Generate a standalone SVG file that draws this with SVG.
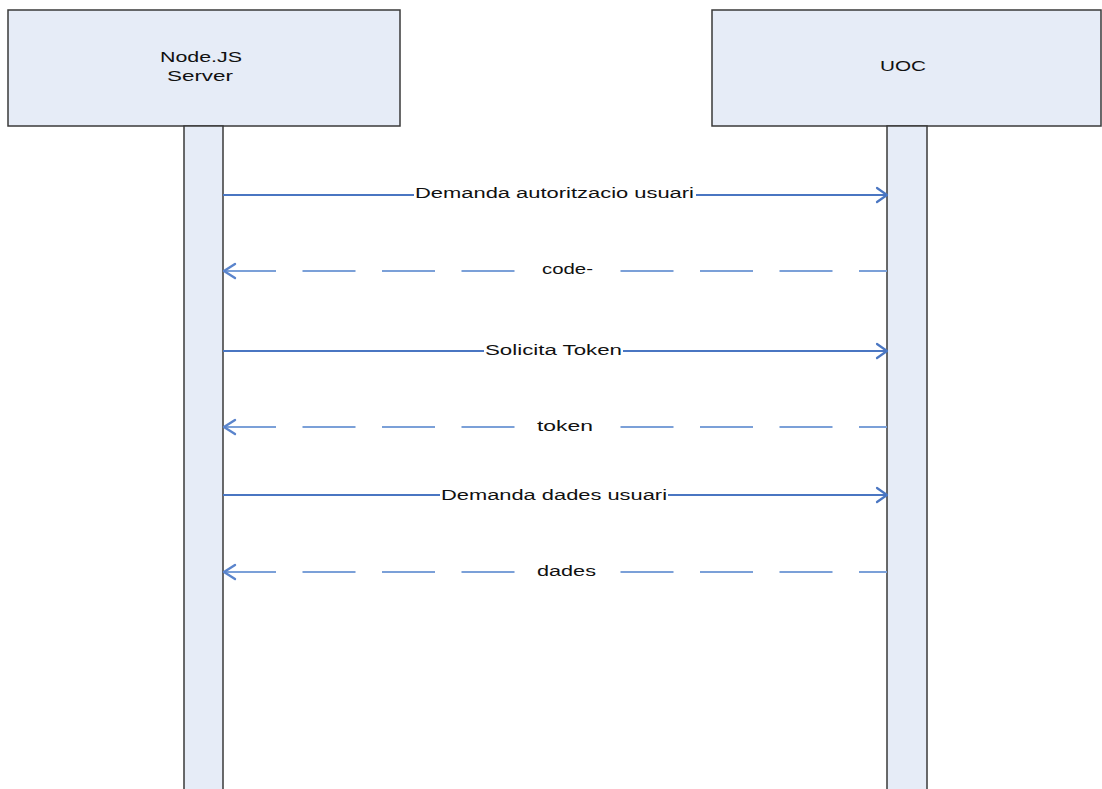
<svg xmlns="http://www.w3.org/2000/svg" width="1102" height="789" viewBox="0 0 1102 789">
<style>
.box{fill:#e6ecf7;stroke:#3a3a3a;stroke-width:1.5}
.life{fill:#e6ecf7;stroke:#3a3a3a;stroke-width:1.5}
.t{font-family:"Liberation Sans",Arial,sans-serif;font-size:14px;fill:#111}
.sol{stroke:#4a76c2;stroke-width:2;fill:none}
.dsh{stroke:#7ba0d8;stroke-width:2;fill:none;stroke-dasharray:53 26.5}
.ahs{stroke:#4a76c2;stroke-width:2.2;fill:none;stroke-linecap:round;stroke-linejoin:round}
.ahd{stroke:#5a84cc;stroke-width:2.4;fill:none;stroke-linecap:round;stroke-linejoin:round}
.bg{fill:#fff}
</style>
<rect width="1102" height="789" fill="#fff"/>
<g id="node-server">
<rect class="box" x="8" y="10" width="392" height="116"/>
<rect class="life" x="184" y="126" width="39" height="670"/>
<text class="t" x="201" y="62" text-anchor="middle" textLength="82" lengthAdjust="spacingAndGlyphs">Node.JS</text>
<text class="t" x="200" y="81" text-anchor="middle" textLength="66" lengthAdjust="spacingAndGlyphs">Server</text>
</g>
<g id="node-uoc">
<rect class="box" x="712" y="10" width="389" height="116"/>
<rect class="life" x="887" y="126" width="40" height="670"/>
<text class="t" x="903" y="71" text-anchor="middle" textLength="46" lengthAdjust="spacingAndGlyphs">UOC</text>
</g>
<g id="connectors">
<line class="sol" x1="223" y1="195" x2="887" y2="195"/>
<polyline class="ahs" points="877,188 887,195 877,202"/>
<rect class="bg" x="414" y="186" width="282" height="16"/>
<text class="t" x="415" y="198" textLength="279" lengthAdjust="spacingAndGlyphs">Demanda autoritzacio usuari</text>

<line class="dsh" x1="223" y1="271" x2="887" y2="271"/>
<polyline class="ahd" points="235,264 224,271 235,278"/>
<rect class="bg" x="541" y="262" width="53" height="16"/>
<text class="t" x="542" y="274" textLength="51" lengthAdjust="spacingAndGlyphs">code-</text>

<line class="sol" x1="223" y1="351" x2="887" y2="351"/>
<polyline class="ahs" points="877,344 887,351 877,358"/>
<rect class="bg" x="484" y="342" width="139" height="16"/>
<text class="t" x="485" y="355" textLength="137" lengthAdjust="spacingAndGlyphs">Solicita Token</text>

<line class="dsh" x1="223" y1="427" x2="887" y2="427"/>
<polyline class="ahd" points="235,420 224,427 235,434"/>
<rect class="bg" x="536" y="418" width="58" height="16"/>
<text class="t" x="537" y="431" textLength="56" lengthAdjust="spacingAndGlyphs">token</text>

<line class="sol" x1="223" y1="495" x2="887" y2="495"/>
<polyline class="ahs" points="877,488 887,495 877,502"/>
<rect class="bg" x="440" y="487" width="228" height="16"/>
<text class="t" x="441" y="500" textLength="226" lengthAdjust="spacingAndGlyphs">Demanda dades usuari</text>

<line class="dsh" x1="223" y1="572" x2="887" y2="572"/>
<polyline class="ahd" points="235,565 224,572 235,579"/>
<rect class="bg" x="536" y="563" width="61" height="16"/>
<text class="t" x="537" y="576" textLength="59" lengthAdjust="spacingAndGlyphs">dades</text>
</g>
</svg>
